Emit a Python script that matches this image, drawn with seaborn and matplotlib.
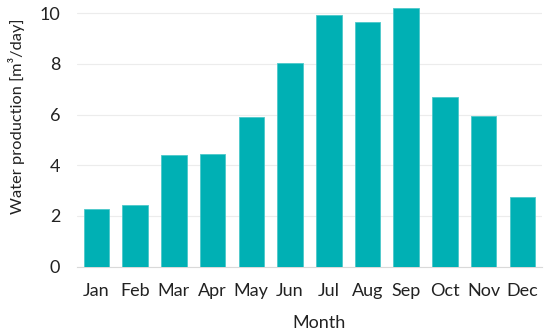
import matplotlib
matplotlib.use("Agg")
import matplotlib.pyplot as plt
import seaborn as sns
import pandas as pd
import numpy as np

months = ["Jan", "Feb", "Mar", "Apr", "May", "Jun", "Jul", "Aug", "Sep", "Oct", "Nov", "Dec"]
production = [2.26, 2.43, 4.41, 4.46, 5.89, 8.02, 9.94, 9.66, 10.19, 6.68, 5.96, 2.76]
yticks = [0, 2, 4, 6, 8, 10]

sns.set_theme(style="white")
plt.rcParams['font.family'] = ['Lato', 'DejaVu Sans']

df = pd.DataFrame({"Month": months, "Production": production})

fig = plt.figure(figsize=(5.5, 3.32), dpi=100)
ax = fig.add_axes([0.14, 0.197, 0.845, 0.794])
sns.barplot(data=df, x="Month", y="Production", color="#00B0B4", saturation=1,
            width=0.66, edgecolor="#4cc8ca", linewidth=0.6, ax=ax, zorder=3)

ax.set_xlim(-0.5, 11.5)
ax.set_ylim(0, 10.4)
ax.set_yticks(yticks)
ax.set_yticklabels([str(t) for t in yticks], fontsize=13, color="#222222")
ax.tick_params(axis='x', which='major', length=0, labelsize=13, labelcolor="#222222", pad=12)
ax.set_xticks(np.arange(-0.5, 12, 1), minor=True)
ax.tick_params(axis='x', which='minor', length=5, color="#d9d9d9", width=0.8, direction='out')
ax.tick_params(axis='y', length=0, pad=12)
ax.yaxis.grid(True, color="#ececec", linewidth=0.8, zorder=0)
ax.set_axisbelow(True)
for s in ["top", "right", "left"]:
    ax.spines[s].set_visible(False)
ax.spines["bottom"].set_color("#d9d9d9")
ax.spines["bottom"].set_linewidth(0.8)
ax.set_xlabel("Month", fontsize=13, color="#222222")
ax.xaxis.set_label_coords(0.52, -0.185)
ax.set_ylabel("Water production [m³/day]", fontsize=11.8, color="#222222")
ax.yaxis.set_label_coords(-0.112, 0.572)

fig.savefig("out.png", dpi=100)
